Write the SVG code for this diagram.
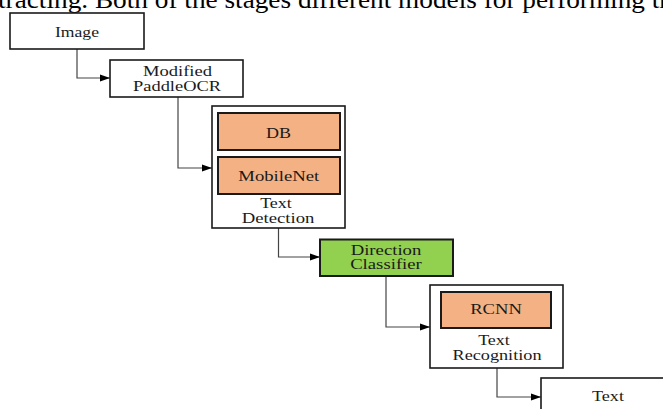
<svg xmlns="http://www.w3.org/2000/svg" width="663" height="409" viewBox="0 0 663 409">
<style>
.box{fill:#fff;stroke:#1a1a1a;stroke-width:1.6}
.org{fill:#F4B183;stroke:#1a1a1a;stroke-width:2}
.grn{fill:#92D050;stroke:#1a1a1a;stroke-width:2}
.t{font-family:"Liberation Serif","Times New Roman",serif;font-size:14px;fill:#1a1a1a;text-anchor:middle}
.cap{font-family:"Liberation Serif","Times New Roman",serif;font-size:26px;fill:#000}
.con{fill:none;stroke:#444;stroke-width:1.2}
</style>
<defs>
<marker id="arr" markerUnits="userSpaceOnUse" markerWidth="10" markerHeight="8" refX="10" refY="4" orient="auto">
<path d="M0,0.5 L10,4 L0,7.5 z" fill="#000"/>
</marker>
</defs>
<text class="cap" x="-2" y="8" textLength="675" lengthAdjust="spacingAndGlyphs">tracting. Both of the stages different models for performing th</text>
<g id="connectors">
<path class="con" d="M77,49 V78 H110" marker-end="url(#arr)"/>
<path class="con" d="M178,97 V168 H212" marker-end="url(#arr)"/>
<path class="con" d="M278.5,228 V257 H320" marker-end="url(#arr)"/>
<path class="con" d="M386,276 V327 H430" marker-end="url(#arr)"/>
<path class="con" d="M497,368 V397 H541" marker-end="url(#arr)"/>
</g>
<g id="image">
<rect class="box" x="10" y="13" width="134" height="36"/>
<text class="t" x="77" y="36.5" textLength="44" lengthAdjust="spacingAndGlyphs">Image</text>
</g>
<g id="paddleocr">
<rect class="box" x="110" y="60" width="133" height="37"/>
<text class="t" x="177.5" y="76" textLength="69" lengthAdjust="spacingAndGlyphs">Modified</text>
<text class="t" x="177" y="90.7" textLength="88" lengthAdjust="spacingAndGlyphs">PaddleOCR</text>
</g>
<g id="text-detection">
<rect class="box" x="212" y="106" width="133" height="122"/>
<text class="t" x="276" y="208.3" textLength="31.7" lengthAdjust="spacingAndGlyphs">Text</text>
<text class="t" x="278" y="222.7" textLength="72.7" lengthAdjust="spacingAndGlyphs">Detection</text>
</g>
<g id="db">
<rect class="org" x="218" y="113" width="122" height="37"/>
<text class="t" x="278.5" y="137.7" textLength="25" lengthAdjust="spacingAndGlyphs">DB</text>
</g>
<g id="mobilenet">
<rect class="org" x="218" y="157" width="122" height="37"/>
<text class="t" x="278.8" y="180.7" textLength="81" lengthAdjust="spacingAndGlyphs">MobileNet</text>
</g>
<g id="direction-classifier">
<rect class="grn" x="320" y="239.5" width="133" height="36.5"/>
<text class="t" x="386" y="255" textLength="70.7" lengthAdjust="spacingAndGlyphs">Direction</text>
<text class="t" x="386" y="269.3" textLength="71.7" lengthAdjust="spacingAndGlyphs">Classifier</text>
</g>
<g id="text-recognition">
<rect class="box" x="430" y="285" width="133" height="83"/>
<text class="t" x="494" y="345" textLength="31.7" lengthAdjust="spacingAndGlyphs">Text</text>
<text class="t" x="497" y="360" textLength="89" lengthAdjust="spacingAndGlyphs">Recognition</text>
</g>
<g id="rcnn">
<rect class="org" x="441" y="292" width="110" height="36"/>
<text class="t" x="496" y="314.3" textLength="51.7" lengthAdjust="spacingAndGlyphs">RCNN</text>
</g>
<g id="text-output">
<rect class="box" x="541" y="378" width="130" height="40"/>
<text class="t" x="608" y="400.7" textLength="32" lengthAdjust="spacingAndGlyphs">Text</text>
</g>
</svg>
